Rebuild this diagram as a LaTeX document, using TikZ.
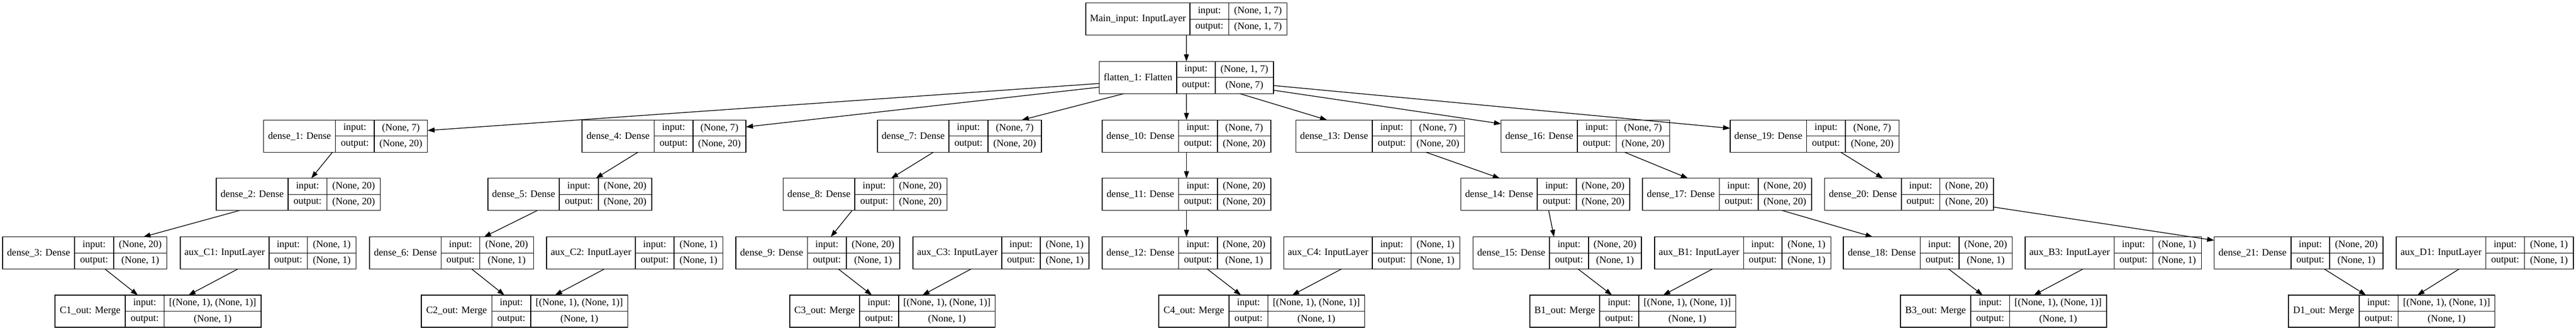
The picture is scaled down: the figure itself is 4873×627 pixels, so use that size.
\documentclass[tikz,border=0pt]{standalone}
\usepackage{fontspec}
\setmainfont{Liberation Serif}
\usetikzlibrary{arrows.meta}

\tikzset{
  recbox/.style={draw, line width=1pt, inner sep=0pt, outer sep=0pt, minimum height=45.75pt},
  recline/.style={line width=1pt},
  rectext/.style={font=\fontsize{14}{17}\selectfont, inner sep=0pt},
  link/.style={-{Triangle[length=10pt,width=7pt]}, line width=1pt}
}

% name, left, split 1, split 2, right, top, label, input, output
\newcommand{\layer}[9]{%
  \node[recbox, minimum width={(#5-#2)*0.75pt}] (#1) at ({(#2+#5)/2},{#6+30.5}) {};
  \draw[recline] (#3,#6) -- (#3,#6+61) (#4,#6) -- (#4,#6+61) (#3,#6+30.5) -- (#5,#6+30.5);
  \node[rectext] (#1-name) at ({(#2+#3)/2},{#6+30.5}) {#7};
  \node[rectext] (#1-ik) at ({(#3+#4)/2},{#6+15.25}) {input:};
  \node[rectext] (#1-ok) at ({(#3+#4)/2},{#6+45.75}) {output:};
  \node[rectext] (#1-iv) at ({(#4+#5)/2},{#6+15.25}) {#8};
  \node[rectext] (#1-ov) at ({(#4+#5)/2},{#6+45.75}) {#9};
}

\begin{document}
\begin{tikzpicture}[x=0.75pt,y=-0.75pt]
	\fill[white] (0,0) rectangle (4873,627);
	\useasboundingbox (0,0) rectangle (4873,627);
	% input and flatten
	\layer{main}{2054}{2251}{2324.6}{2434.8}{5.7}{Main\_input: InputLayer}{(None, 1, 7)}{(None, 1, 7)}
	\layer{flat}{2079.5}{2226}{2299}{2409}{116.3}{flatten\_1: Flatten}{(None, 1, 7)}{(None, 7)}
	% first dense row
	\layer{d1}{498.7}{634.6}{708}{808.7}{227.3}{dense\_1: Dense}{(None, 7)}{(None, 20)}
	\layer{d4}{1101}{1237.5}{1311}{1411}{227.3}{dense\_4: Dense}{(None, 7)}{(None, 20)}
	\layer{d7}{1660}{1795}{1869}{1970}{227.3}{dense\_7: Dense}{(None, 7)}{(None, 20)}
	\layer{d10}{2085}{2229.6}{2303}{2404}{227.3}{dense\_10: Dense}{(None, 7)}{(None, 20)}
	\layer{d13}{2451.5}{2596}{2669.6}{2770.6}{227.3}{dense\_13: Dense}{(None, 7)}{(None, 20)}
	\layer{d16}{2839.5}{2984}{3057.6}{3158.6}{227.3}{dense\_16: Dense}{(None, 7)}{(None, 20)}
	\layer{d19}{3272.8}{3417.6}{3491}{3592.3}{227.3}{dense\_19: Dense}{(None, 7)}{(None, 20)}
	% second dense row
	\layer{d2}{409}{545}{618.6}{719.4}{337.7}{dense\_2: Dense}{(None, 20)}{(None, 20)}
	\layer{d5}{923}{1058}{1132}{1233}{337.7}{dense\_5: Dense}{(None, 20)}{(None, 20)}
	\layer{d8}{1481.6}{1617}{1690.5}{1791.5}{337.7}{dense\_8: Dense}{(None, 20)}{(None, 20)}
	\layer{d11}{2085}{2229.6}{2303}{2404}{337.7}{dense\_11: Dense}{(None, 20)}{(None, 20)}
	\layer{d14}{2763.8}{2908}{2982}{3083}{337.7}{dense\_14: Dense}{(None, 20)}{(None, 20)}
	\layer{d17}{3107}{3252.4}{3325.8}{3427}{337.7}{dense\_17: Dense}{(None, 20)}{(None, 20)}
	\layer{d20}{3451.4}{3596.8}{3669.5}{3771}{337.7}{dense\_20: Dense}{(None, 20)}{(None, 20)}
	% third dense row and aux inputs
	\layer{d3}{5}{141}{215}{315.7}{448.7}{dense\_3: Dense}{(None, 20)}{(None, 1)}
	\layer{auxC1}{341}{509}{581.6}{673.5}{448.7}{aux\_C1: InputLayer}{(None, 1)}{(None, 1)}
	\layer{d6}{699}{834.8}{907.5}{1009.4}{448.7}{dense\_6: Dense}{(None, 20)}{(None, 1)}
	\layer{auxC2}{1034}{1202}{1275}{1367.6}{448.7}{aux\_C2: InputLayer}{(None, 1)}{(None, 1)}
	\layer{d9}{1392}{1527.5}{1601}{1702}{448.7}{dense\_9: Dense}{(None, 20)}{(None, 1)}
	\layer{auxC3}{1727}{1895}{1968}{2060}{448.7}{aux\_C3: InputLayer}{(None, 1)}{(None, 1)}
	\layer{d12}{2085}{2229.6}{2303}{2404}{448.7}{dense\_12: Dense}{(None, 20)}{(None, 1)}
	\layer{auxC4}{2428.6}{2596}{2669.6}{2761.5}{448.7}{aux\_C4: InputLayer}{(None, 1)}{(None, 1)}
	\layer{d15}{2786.7}{2931}{3005}{3105}{448.7}{dense\_15: Dense}{(None, 20)}{(None, 1)}
	\layer{auxB1}{3130}{3298.3}{3371}{3463.5}{448.7}{aux\_B1: InputLayer}{(None, 1)}{(None, 1)}
	\layer{d18}{3487}{3632.5}{3705.9}{3806.6}{448.7}{dense\_18: Dense}{(None, 20)}{(None, 1)}
	\layer{auxB3}{3830.9}{3999.3}{4072.5}{4164.3}{448.7}{aux\_B3: InputLayer}{(None, 1)}{(None, 1)}
	\layer{d21}{4188.5}{4333.8}{4407}{4508}{448.7}{dense\_21: Dense}{(None, 20)}{(None, 1)}
	\layer{auxD1}{4533}{4702.4}{4775.6}{4868}{448.7}{aux\_D1: InputLayer}{(None, 1)}{(None, 1)}
	% merge outputs
	\layer{C1}{104}{237}{310.6}{494}{559}{C1\_out: Merge}{[(None, 1), (None, 1)]}{(None, 1)}
	\layer{C2}{797}{930.5}{1004}{1187.7}{559}{C2\_out: Merge}{[(None, 1), (None, 1)]}{(None, 1)}
	\layer{C3}{1494}{1626}{1700}{1882.6}{559}{C3\_out: Merge}{[(None, 1), (None, 1)]}{(None, 1)}
	\layer{C4}{2192}{2325}{2398.7}{2581.6}{559}{C4\_out: Merge}{[(None, 1), (None, 1)]}{(None, 1)}
	\layer{B1}{2893.9}{3026}{3100}{3283.7}{559}{B1\_out: Merge}{[(None, 1), (None, 1)]}{(None, 1)}
	\layer{B3}{3595}{3728}{3801.5}{3985}{559}{B3\_out: Merge}{[(None, 1), (None, 1)]}{(None, 1)}
	\layer{D1}{4328.8}{4462.8}{4536.7}{4719.7}{559}{D1\_out: Merge}{[(None, 1), (None, 1)]}{(None, 1)}
	% links
	\draw[link] (main) -- (flat);
	\draw[link] (flat) -- (d1);
	\draw[link] (flat) -- (d4);
	\draw[link] (flat) -- (d7);
	\draw[link] (flat) -- (d10);
	\draw[link] (flat) -- (d13);
	\draw[link] (flat) -- (d16);
	\draw[link] (flat) -- (d19);
	\draw[link] (d1) -- (d2);
	\draw[link] (d2) -- (d3);
	\draw[link] (d3) -- (C1);
	\draw[link] (auxC1) -- (C1);
	\draw[link] (d4) -- (d5);
	\draw[link] (d5) -- (d6);
	\draw[link] (d6) -- (C2);
	\draw[link] (auxC2) -- (C2);
	\draw[link] (d7) -- (d8);
	\draw[link] (d8) -- (d9);
	\draw[link] (d9) -- (C3);
	\draw[link] (auxC3) -- (C3);
	\draw[link] (d10) -- (d11);
	\draw[link] (d11) -- (d12);
	\draw[link] (d12) -- (C4);
	\draw[link] (auxC4) -- (C4);
	\draw[link] (d13) -- (d14);
	\draw[link] (d14) -- (d15);
	\draw[link] (d15) -- (B1);
	\draw[link] (auxB1) -- (B1);
	\draw[link] (d16) -- (d17);
	\draw[link] (d17) -- (d18);
	\draw[link] (d18) -- (B3);
	\draw[link] (auxB3) -- (B3);
	\draw[link] (d19) -- (d20);
	\draw[link] (d20) -- (d21);
	\draw[link] (d21) -- (D1);
	\draw[link] (auxD1) -- (D1);
\end{tikzpicture}
\end{document}
